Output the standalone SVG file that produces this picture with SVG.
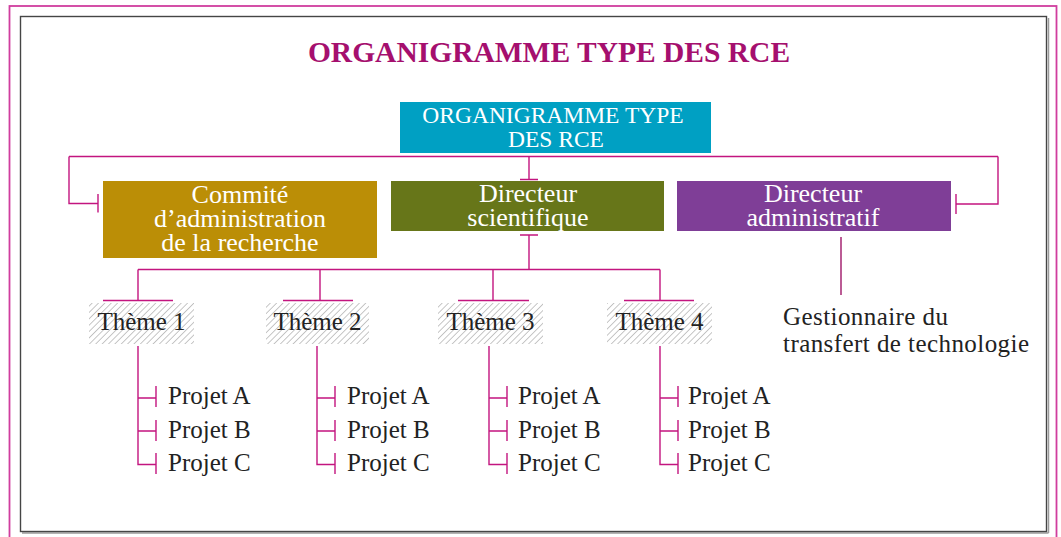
<svg xmlns="http://www.w3.org/2000/svg" width="1061" height="537" viewBox="0 0 1061 537">
<defs>
<pattern id="hatch" patternUnits="userSpaceOnUse" width="4.5" height="4.5" patternTransform="rotate(45)">
<rect width="4.5" height="4.5" fill="#ffffff"/>
<line x1="0" y1="0" x2="0" y2="4.5" stroke="#b8b8b8" stroke-width="1.6"/>
</pattern>
</defs>
<style>
.frame{fill:none;stroke:#454545;stroke-width:1.4}
.outer{fill:none;stroke:#d03d9e;stroke-width:1.8}
.title{font-family:"Liberation Serif",serif;font-weight:bold;font-size:29.5px;fill:#a50f6e}
.box{font-family:"Liberation Serif",serif;font-size:26px;fill:#ffffff;text-anchor:middle}
.top{font-family:"Liberation Serif",serif;font-size:23.5px;fill:#ffffff;text-anchor:middle}
.lbl{font-family:"Liberation Serif",serif;font-size:25px;fill:#222222}
.thm{font-family:"Liberation Serif",serif;font-size:25px;fill:#222222;text-anchor:middle}
.ln{fill:none;stroke:#c3157f;stroke-width:1.4}
.ln2{fill:none;stroke:#9e1668;stroke-width:1.4}
</style>
<rect class="outer" x="9.5" y="6" width="1047" height="545"/>
<line x1="1048.5" y1="18" x2="1048.5" y2="533" stroke="#9a9a9a" stroke-width="1.5"/>
<line x1="22" y1="533" x2="1048.5" y2="533" stroke="#9a9a9a" stroke-width="1.5"/>
<rect class="frame" x="20.5" y="16.5" width="1026" height="515"/>
<text class="title" x="549" y="62" text-anchor="middle">ORGANIGRAMME TYPE DES RCE</text>

<g id="connectors">
<path class="ln" d="M69 156.5H998M69 156.5V203.5H98M98 194V212.5"/>
<path class="ln" d="M998 156.5V204H956M956 194V214"/>
<path class="ln" d="M529 156.5V179.5M520 179.5H538"/>
<path class="ln" d="M520 235H538M529 235V269.5"/>
<path class="ln" d="M138 269.5H660M138 269.5V300.5M320 269.5V300.5M493 269.5V300.5M660 269.5V300.5"/>
<path class="ln" d="M103 300.5H173M283 300.5H353M458 300.5H529M624 300.5H694"/>
<path class="ln2" d="M841 237V295"/>
<path class="ln" d="M138 346V464.5H156M138 398H156M138 431H156M156 386V407M156 420V441M156 453V474"/>
<path class="ln" d="M317 346V464.5H335M317 398H335M317 431H335M335 386V407M335 420V441M335 453V474"/>
<path class="ln" d="M489 346V464.5H507M489 398H507M489 431H507M507 386V407M507 420V441M507 453V474"/>
<path class="ln" d="M660 346V464.5H678M660 398H678M660 431H678M678 386V407M678 420V441M678 453V474"/>
</g>

<g id="node-root">
<rect x="400" y="102" width="311" height="51" fill="#00a0c3"/>
<text class="top" x="553" y="123">ORGANIGRAMME TYPE</text>
<text class="top" x="556" y="147">DES RCE</text>
</g>
<g id="node-commite">
<rect x="103" y="181" width="274" height="77" fill="#bb8e06"/>
<text class="box" x="240" y="203">Commité</text>
<text class="box" x="240" y="227">d’administration</text>
<text class="box" x="240" y="251">de la recherche</text>
</g>
<g id="node-dirsci">
<rect x="391" y="181" width="273" height="50" fill="#677619"/>
<text class="box" x="528" y="202">Directeur</text>
<text class="box" x="528" y="226">scientifique</text>
</g>
<g id="node-diradm">
<rect x="677" y="181" width="274" height="50" fill="#7f3e97"/>
<text class="box" x="813" y="202">Directeur</text>
<text class="box" x="813" y="226">administratif</text>
</g>
<g id="node-gestionnaire">
<text class="lbl" x="783" y="325" font-size="26" textLength="165">Gestionnaire du</text>
<text class="lbl" x="783" y="352" font-size="26" textLength="246">transfert de technologie</text>
</g>

<g id="node-theme1">
<rect x="89" y="303" width="105" height="41" fill="url(#hatch)"/>
<text class="thm" x="141.5" y="330">Thème 1</text>
</g>
<g id="node-theme2">
<rect x="266" y="303" width="103" height="41" fill="url(#hatch)"/>
<text class="thm" x="317.5" y="330">Thème 2</text>
</g>
<g id="node-theme3">
<rect x="438" y="303" width="105" height="41" fill="url(#hatch)"/>
<text class="thm" x="490.5" y="330">Thème 3</text>
</g>
<g id="node-theme4">
<rect x="607" y="303" width="105" height="41" fill="url(#hatch)"/>
<text class="thm" x="659.5" y="330">Thème 4</text>
</g>

<g id="node-projets1">
<text class="lbl" x="168" y="404">Projet A</text>
<text class="lbl" x="168" y="438">Projet B</text>
<text class="lbl" x="168" y="471">Projet C</text>
</g>
<g id="node-projets2">
<text class="lbl" x="347" y="404">Projet A</text>
<text class="lbl" x="347" y="438">Projet B</text>
<text class="lbl" x="347" y="471">Projet C</text>
</g>
<g id="node-projets3">
<text class="lbl" x="518" y="404">Projet A</text>
<text class="lbl" x="518" y="438">Projet B</text>
<text class="lbl" x="518" y="471">Projet C</text>
</g>
<g id="node-projets4">
<text class="lbl" x="688" y="404">Projet A</text>
<text class="lbl" x="688" y="438">Projet B</text>
<text class="lbl" x="688" y="471">Projet C</text>
</g>
</svg>
